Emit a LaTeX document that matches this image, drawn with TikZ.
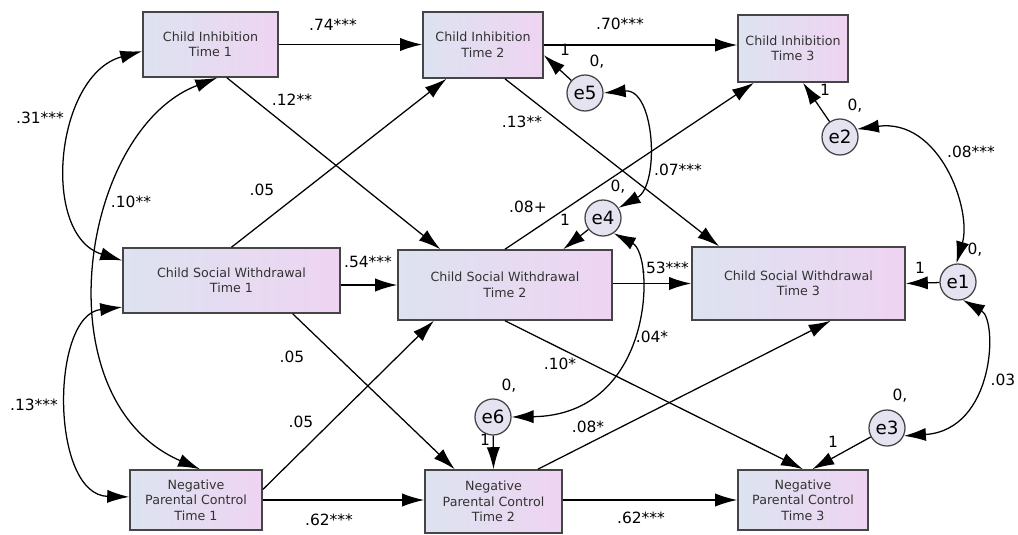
\documentclass[tikz,border=0pt]{standalone}
\usepackage{fontspec}
\setmainfont{DejaVu Sans}
\usetikzlibrary{arrows.meta,calc}

\definecolor{boxleft}{HTML}{DDE3F0}
\definecolor{boxright}{HTML}{EED4F2}
\definecolor{errfill}{HTML}{E6E3F1}
\definecolor{boxline}{HTML}{454545}

\tikzset{
  var/.style={draw=boxline,line width=1.1pt,left color=boxleft,right color=boxright,
    align=center,font=\fontsize{9}{11}\selectfont,text=black!80,inner sep=0pt},
  err/.style={circle,draw=boxline,line width=0.9pt,fill=errfill,minimum size=0.9cm,
    inner sep=0pt,font=\fontsize{13}{13}\selectfont},
  coef/.style={font=\fontsize{11}{11}\selectfont,inner sep=0pt},
}

\begin{document}
\begin{tikzpicture}[x=0.025cm,y=-0.025cm,->,>={Latex[length=5.5mm,width=3.3mm]},line width=0.9pt]

\useasboundingbox (0,0) rectangle (1018,534);

% observed variables
\node (ci1) [var,minimum width=3.375cm,minimum height=1.625cm] at (210.5,44.5) {Child Inhibition\\Time 1};
\node (ci2) [var,minimum width=3cm,minimum height=1.65cm] at (483,45) {Child Inhibition\\Time 2};
\node (ci3) [var,minimum width=2.75cm,minimum height=1.675cm] at (793,48.5) {Child Inhibition\\Time 3};
\node (csw1) [var,minimum width=5.425cm,minimum height=1.625cm] at (231.5,280.5) {Child Social Withdrawal\\Time 1};
\node (csw2) [var,minimum width=5.35cm,minimum height=1.75cm] at (505,285) {Child Social Withdrawal\\Time 2};
\node (csw3) [var,minimum width=5.325cm,minimum height=1.825cm] at (798.5,283.5) {Child Social Withdrawal\\Time 3};
\node (npc1) [var,minimum width=3.3cm,minimum height=1.5cm] at (196,500) {Negative\\Parental Control\\Time 1};
\node (npc2) [var,minimum width=3.425cm,minimum height=1.575cm] at (493.5,501.5) {Negative\\Parental Control\\Time 2};
\node (npc3) [var,minimum width=3.25cm,minimum height=1.5cm] at (803,500) {Negative\\Parental Control\\Time 3};

% residuals
\node (e1) [err] at (958,282) {e1};
\node (e2) [err] at (840,137) {e2};
\node (e3) [err] at (887,428) {e3};
\node (e4) [err] at (603,218) {e4};
\node (e5) [err] at (585,93) {e5};
\node (e6) [err] at (493,417) {e6};

% paths
\path
    (ci1.east) edge (ci1.east -| ci2.west)
    (ci2.east) edge (ci2.east -| ci3.west)
    (csw2.west -| csw1.east) edge (csw2.west)
    (csw3.west -| csw2.east) edge (csw3.west)
    (npc1.east) edge (npc1.east -| npc2.west)
    (npc3.west -| npc2.east) edge (npc3.west)
    ($(ci1.south west)!0.62!(ci1.south east)$) edge ($(csw2.north west)!0.2!(csw2.north east)$)
    (csw1.north) edge ($(ci2.south west)!0.2!(ci2.south east)$)
    ($(ci2.south west)!0.68!(ci2.south east)$) edge ($(csw3.north west)!0.13!(csw3.north east)$)
    (csw2.north) edge ($(ci3.south west)!0.15!(ci3.south east)$)
    ($(csw1.south west)!0.78!(csw1.south east)$) edge ($(npc2.north west)!0.22!(npc2.north east)$)
    ($(npc1.north east)!0.33!(npc1.south east)$) edge ($(csw2.south west)!0.17!(csw2.south east)$)
    (csw2.south) edge (npc3.north)
    ($(npc2.north west)!0.82!(npc2.north east)$) edge ($(csw3.south west)!0.65!(csw3.south east)$)
;

% residual paths
\path
    (e5) edge ($(ci2.north east)!0.65!(ci2.south east)$)
    (e2) edge ($(ci3.south west)!0.59!(ci3.south east)$)
    (e4) edge ($(csw2.north west)!0.77!(csw2.north east)$)
    (e1) edge (csw3.east)
    (e6) edge (npc2.north)
    (e3) edge ($(npc3.north west)!0.57!(npc3.north east)$)
;

% covariances
\draw [<->] ($(ci1.north west)!0.6!(ci1.south west)$) .. controls (55,75) and (40,235) .. ($(csw1.north west)!0.2!(csw1.south west)$);
\draw [<->] ($(ci1.south west)!0.55!(ci1.south east)$) .. controls (80,130) and (40,400) .. ($(npc1.north west)!0.53!(npc1.north east)$);
\draw [<->] ($(csw1.north west)!0.9!(csw1.south west)$) .. controls (50,315) and (50,495) .. ($(npc1.north west)!0.45!(npc1.south west)$);
\draw [<->] (e5.east) .. controls (655,88) and (660,185) .. (e4.33);
\draw [<->] (e2.25) .. controls (940,118) and (972,210) .. (e1.95);
\draw [<->] (e4.-55) .. controls (655,255) and (655,415) .. (e6.east);
\draw [<->] (e1.-75) .. controls (998,320) and (995,430) .. (e3.-25);

% coefficients
\node (b1) [coef] at (333,25) {.74***};
\node (b2) [coef] at (620,24) {.70***};
\node (b3) [coef] at (292,100) {.12**};
\node (b4) [coef] at (262,190) {.05};
\node (b5) [coef] at (522,122) {.13**};
\node (b6) [coef] at (528,207) {.08+};
\node (b7) [coef] at (368,262) {.54***};
\node (b8) [coef] at (665,268) {.53***};
\node (b9) [coef] at (292,357) {.05};
\node (b10) [coef] at (301,422) {.05};
\node (b11) [coef] at (560,364) {.10*};
\node (b12) [coef] at (588,427) {.08*};
\node (b13) [coef] at (329,520) {.62***};
\node (b14) [coef] at (641,518) {.62***};
\node (r1) [coef] at (40,118) {.31***};
\node (r2) [coef] at (131,202) {.10**};
\node (r3) [coef] at (34,405) {.13***};
\node (r4) [coef] at (678,170) {.07***};
\node (r5) [coef] at (971,152) {.08***};
\node (r6) [coef] at (652,337) {.04*};
\node (r7) [coef] at (1003,380) {.03};

% residual weights and means
\node (w5) [coef] at (565,50) {1};
\node (m5) [coef] at (597,62) {0,};
\node (w2) [coef] at (825,90) {1};
\node (m2) [coef] at (855,106) {0,};
\node (w4) [coef] at (565,220) {1};
\node (m4) [coef] at (618,187) {0,};
\node (w1) [coef] at (920,268) {1};
\node (m1) [coef] at (975,250) {0,};
\node (w6) [coef] at (485,440) {1};
\node (m6) [coef] at (509,386) {0,};
\node (w3) [coef] at (833,442) {1};
\node (m3) [coef] at (900,396) {0,};

\end{tikzpicture}
\end{document}
